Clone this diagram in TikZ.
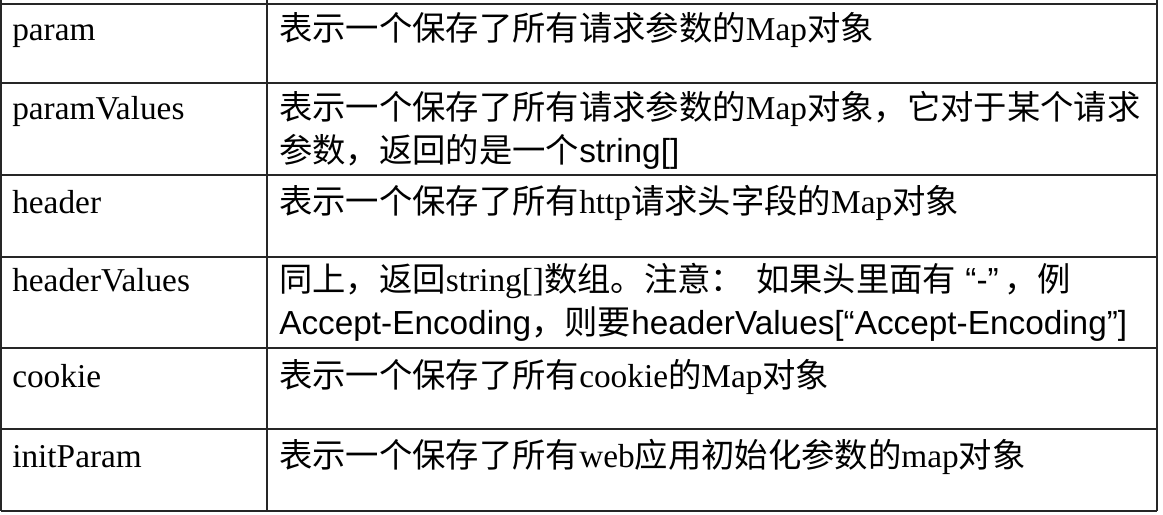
\documentclass[tikz,border=0pt]{standalone}
\usepackage{fontspec}
\setmainfont{Liberation Serif}
\newfontfamily\cjk{Noto Sans CJK SC}
\newfontfamily\arial{Liberation Sans}
\usetikzlibrary{positioning}
\tikzstyle{key}=[
	anchor=base west,
	inner sep=0pt,
	text width=240pt,
	align=left
	]
\tikzstyle{desc}=[
	anchor=base west,
	inner sep=0pt,
	text width=660pt,
	align=left
	]
\tikzstyle{rule}=[line width=1.3pt, draw=black!85]

\begin{document}
\begin{tikzpicture}[x=0.75pt, y=-0.75pt, font=\fontsize{25pt}{32.25pt}\selectfont]

		\useasboundingbox (0,0) rectangle (1163,514);

		% table rules
		\foreach \y in {4,83,175,257,348,429,511}
			\draw[rule] (1,\y) -- (1157,\y);
		\foreach \x in {1,267,1157}
			\draw[rule] (\x,0) -- (\x,511);

		\node (param) [key] at (12,40) {param};
		\node (paramText) [desc] at (279,40) {%
			{\cjk 表示一个保存了所有请求参数的}Map{\cjk 对象}};

		\node (paramValues) [key] at (12,119) {paramValues};
		\node (paramValuesText) [desc] at (279,119) {%
			{\cjk 表示一个保存了所有请求参数的}Map{\cjk 对象，它对于某个请求}\\
			{\cjk 参数，返回的是一个}{\arial string[]}};

		\node (header) [key] at (12,213) {header};
		\node (headerText) [desc] at (279,213) {%
			{\cjk 表示一个保存了所有}http{\cjk 请求头字段的}Map{\cjk 对象}};

		\node (headerValues) [key] at (12,291) {headerValues};
		\node (headerValuesText) [desc] at (279,291) {%
			{\cjk 同上，返回}string[]{\cjk 数组。注意：}\hspace{9pt}{\cjk 如果头里面有}\hspace{7pt}{\arial “-”}\hspace{4pt}{\cjk ，例}\\
			{\arial Accept-Encoding}{\cjk ，则要}{\arial headerValues[“Accept-Encoding”]}};

		\node (cookie) [key] at (12,387) {cookie};
		\node (cookieText) [desc] at (279,387) {%
			{\cjk 表示一个保存了所有}cookie{\cjk 的}Map{\cjk 对象}};

		\node (initParam) [key] at (12,467) {initParam};
		\node (initParamText) [desc] at (279,467) {%
			{\cjk 表示一个保存了所有}web{\cjk 应用初始化参数的}map{\cjk 对象}};

\end{tikzpicture}
\end{document}
